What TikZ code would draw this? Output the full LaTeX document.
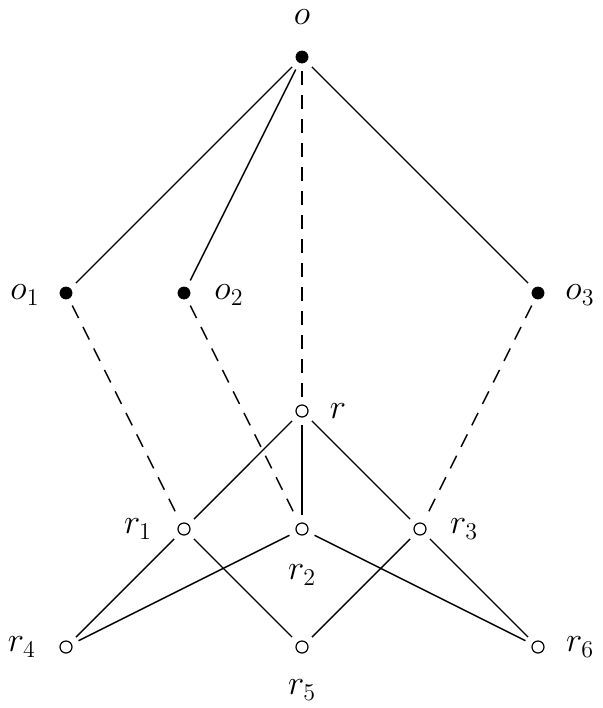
\documentclass[tikz,border=0pt]{standalone}
\begin{document}
\begin{tikzpicture}[x=0.5pt,y=-0.5pt,
  full/.style={circle,fill=black,draw=black,inner sep=0pt,minimum size=6pt,outer sep=4pt},
  hol/.style={circle,fill=white,draw=black,line width=0.6pt,inner sep=0pt,minimum size=6pt,outer sep=4pt},
  lab/.style={font=\fontsize{18.5}{22}\selectfont},
  e/.style={line width=0.7pt},
  d/.style={line width=0.7pt,dash pattern=on 7pt off 5pt}]
\useasboundingbox (0,0) rectangle (602,708);
\node[full] (o) at (302,57) {};
\node[full] (o1) at (66,293) {};
\node[full] (o2) at (184,293) {};
\node[full] (o3) at (538,293) {};
\node[hol] (r) at (302,411) {};
\node[hol] (r1) at (184,529) {};
\node[hol] (r2) at (302,529) {};
\node[hol] (r3) at (420,529) {};
\node[hol] (r4) at (66,647) {};
\node[hol] (r5) at (302,647) {};
\node[hol] (r6) at (538,647) {};
\node[lab] (lo) at (302,17) {$o$};
\node[lab] (lo1) at (25,295) {$o_1$};
\node[lab] (lo2) at (229,295) {$o_2$};
\node[lab] (lo3) at (580,295) {$o_3$};
\node[lab] (lr) at (338,411) {$r$};
\node[lab] (lr1) at (138,529) {$r_1$};
\node[lab] (lr2) at (302,575) {$r_2$};
\node[lab] (lr3) at (464,529) {$r_3$};
\node[lab] (lr4) at (22,647) {$r_4$};
\node[lab] (lr5) at (302,690) {$r_5$};
\node[lab] (lr6) at (580,647) {$r_6$};
\draw[e] (o)--(o1); \draw[e] (o)--(o2); \draw[e] (o)--(o3);
\draw[d] (o)--(r); \draw[d] (o1)--(r1); \draw[d] (o2)--(r2); \draw[d] (o3)--(r3);
\draw[e] (r)--(r1); \draw[e] (r)--(r2); \draw[e] (r)--(r3);
\draw[e] (r1)--(r4); \draw[e] (r1)--(r5);
\draw[e] (r2)--(r4); \draw[e] (r2)--(r6);
\draw[e] (r3)--(r5); \draw[e] (r3)--(r6);
\end{tikzpicture}
\end{document}
